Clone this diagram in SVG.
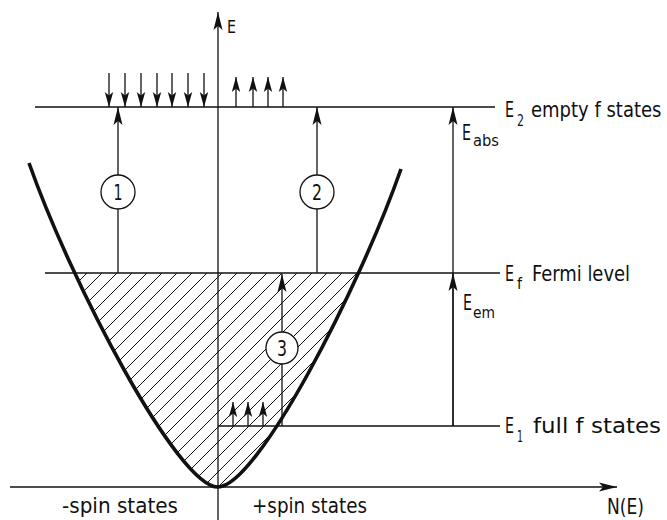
<svg xmlns="http://www.w3.org/2000/svg" width="667" height="520" viewBox="0 0 667 520">
<style>
.ln{stroke:#111;stroke-width:1.3;fill:none}
.t{font-family:"DejaVu Sans Condensed","Liberation Sans Narrow","Liberation Sans",sans-serif;font-stretch:condensed;fill:#111}
.big{font-size:21px}
.sub{font-size:15px}
.lbl{font-size:22px}
.num{font-size:21px;text-anchor:middle}
.circ{fill:#fff;stroke:#111;stroke-width:1.3}
</style>
<defs>
<marker id="ah" markerUnits="userSpaceOnUse" markerWidth="24" markerHeight="12" viewBox="-20 -6 22 12" refX="0" refY="0" orient="auto" overflow="visible">
<path d="M0,0 L-18,-4.5 L-14,0 L-18,4.5 Z" fill="#111"/>
</marker>
<marker id="as" markerUnits="userSpaceOnUse" markerWidth="20" markerHeight="12" viewBox="-18 -6 20 12" refX="0" refY="0" orient="auto" overflow="visible">
<path d="M0,0 L-15,-4.2 L-11.5,0 L-15,4.2 Z" fill="#111"/>
</marker>
<pattern id="hatch" patternUnits="userSpaceOnUse" width="15" height="15">
<path d="M-2,2 L2,-2 M0,15 L15,0 M13,17 L17,13" stroke="#111" stroke-width="1"/>
</pattern>
<clipPath id="para">
<path d="M29,163 C72,285 178,487 218,487 C257,487 359,289 401,169 Z"/>
</clipPath>
</defs>
<rect width="667" height="520" fill="#fff"/>

<g id="hatched-region">
<rect x="0" y="273" width="667" height="220" fill="url(#hatch)" clip-path="url(#para)"/>
</g>

<g id="dos-curve">
<path d="M29,163 C72,285 178,487 218,487 C257,487 359,289 401,169" fill="none" stroke="#111" stroke-width="3.6"/>
</g>

<g id="axes">
<line class="ln" x1="218" y1="520" x2="218" y2="12" marker-end="url(#ah)"/>
<line class="ln" x1="10" y1="487" x2="617" y2="487" marker-end="url(#ah)"/>
<text class="t" x="227" y="33" font-size="18" textLength="9" lengthAdjust="spacingAndGlyphs">E</text>
<text class="t lbl" x="607" y="514" textLength="37" lengthAdjust="spacingAndGlyphs">N(E)</text>
<text class="t lbl" x="62" y="513" textLength="116" lengthAdjust="spacingAndGlyphs">-spin states</text>
<text class="t lbl" x="252" y="513" textLength="115" lengthAdjust="spacingAndGlyphs">+spin states</text>
</g>

<g id="level-E2">
<line class="ln" x1="35" y1="107" x2="495" y2="107"/>
<text class="t big" x="505" y="117" textLength="9" lengthAdjust="spacingAndGlyphs">E</text>
<text class="t sub" x="517" y="126" textLength="7" lengthAdjust="spacingAndGlyphs">2</text>
<text class="t lbl" transform="translate(531,117) scale(0.91,1)" x="0" y="0">empty f states</text>
</g>

<g id="level-Ef">
<line class="ln" x1="45" y1="273" x2="500" y2="273"/>
<text class="t big" x="505" y="281" textLength="9" lengthAdjust="spacingAndGlyphs">E</text>
<text class="t sub" x="517" y="289" textLength="5" lengthAdjust="spacingAndGlyphs">f</text>
<text class="t lbl" x="532" y="281" textLength="98" lengthAdjust="spacingAndGlyphs">Fermi level</text>
</g>

<g id="level-E1">
<line class="ln" x1="218" y1="426" x2="500" y2="426"/>
<text class="t big" x="505" y="433" textLength="9" lengthAdjust="spacingAndGlyphs">E</text>
<text class="t sub" x="517" y="442" textLength="6" lengthAdjust="spacingAndGlyphs">1</text>
<text class="t lbl" x="533" y="433" textLength="128" lengthAdjust="spacingAndGlyphs">full f states</text>
</g>

<g id="spin-arrows">
<line class="ln" x1="109" y1="73" x2="109" y2="107" marker-end="url(#as)"/>
<line class="ln" x1="125" y1="73" x2="125" y2="107" marker-end="url(#as)"/>
<line class="ln" x1="141" y1="73" x2="141" y2="107" marker-end="url(#as)"/>
<line class="ln" x1="157" y1="73" x2="157" y2="107" marker-end="url(#as)"/>
<line class="ln" x1="172" y1="73" x2="172" y2="107" marker-end="url(#as)"/>
<line class="ln" x1="188" y1="73" x2="188" y2="107" marker-end="url(#as)"/>
<line class="ln" x1="204" y1="73" x2="204" y2="107" marker-end="url(#as)"/>
<line class="ln" x1="236" y1="107" x2="236" y2="77" marker-end="url(#as)"/>
<line class="ln" x1="253" y1="107" x2="253" y2="77" marker-end="url(#as)"/>
<line class="ln" x1="268" y1="107" x2="268" y2="77" marker-end="url(#as)"/>
<line class="ln" x1="283" y1="107" x2="283" y2="77" marker-end="url(#as)"/>
<line class="ln" x1="233" y1="426" x2="233" y2="402" marker-end="url(#as)"/>
<line class="ln" x1="248" y1="426" x2="248" y2="402" marker-end="url(#as)"/>
<line class="ln" x1="263" y1="426" x2="263" y2="402" marker-end="url(#as)"/>
</g>

<g id="connectors">
<line class="ln" x1="118" y1="273" x2="118" y2="107" marker-end="url(#ah)"/>
<line class="ln" x1="317" y1="273" x2="317" y2="107" marker-end="url(#ah)"/>
<line class="ln" x1="282" y1="426" x2="282" y2="274" marker-end="url(#ah)"/>
<line class="ln" x1="453" y1="426" x2="453" y2="107" marker-end="url(#ah)"/>
<line class="ln" x1="453" y1="426" x2="453" y2="273" marker-end="url(#ah)"/>
</g>

<g id="transition-1">
<circle class="circ" cx="118" cy="192" r="17"/>
<text class="t num" x="118" y="200" textLength="9" lengthAdjust="spacingAndGlyphs">1</text>
</g>
<g id="transition-2">
<circle class="circ" cx="317" cy="192" r="17"/>
<text class="t num" x="317" y="200" textLength="10" lengthAdjust="spacingAndGlyphs">2</text>
</g>
<g id="transition-3">
<circle class="circ" cx="282" cy="348" r="16"/>
<text class="t num" x="282" y="356" textLength="10" lengthAdjust="spacingAndGlyphs">3</text>
</g>

<g id="energy-labels">
<text class="t big" x="462" y="140" textLength="9" lengthAdjust="spacingAndGlyphs">E</text>
<text class="t" x="473" y="146" font-size="16" textLength="26" lengthAdjust="spacingAndGlyphs">abs</text>
<text class="t big" x="463" y="310" textLength="9" lengthAdjust="spacingAndGlyphs">E</text>
<text class="t" x="473" y="318" font-size="16" textLength="22" lengthAdjust="spacingAndGlyphs">em</text>
</g>
</svg>
